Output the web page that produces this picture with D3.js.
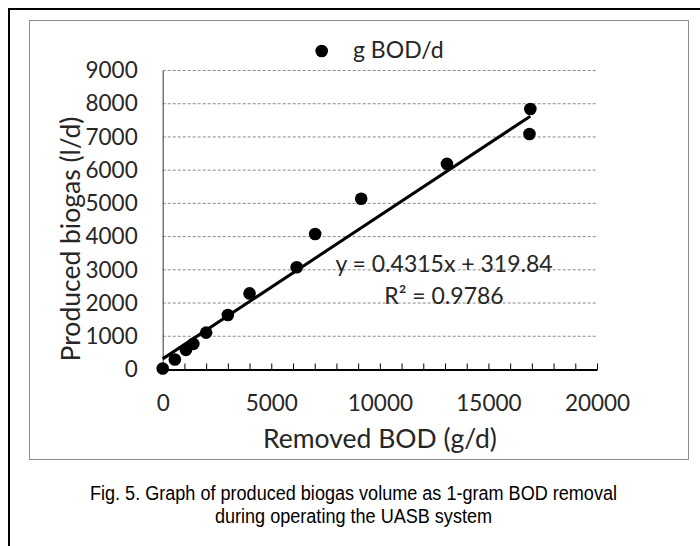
<!DOCTYPE html>
<html><head><meta charset="utf-8">
<script src="https://cdn.jsdelivr.net/npm/d3@7"></script>
<style>
html,body{margin:0;padding:0;background:#fff;}
svg{display:block;}
</style>
</head><body>
<svg id="chart" width="700" height="546"></svg>
<script>
// ---- data ----
const removedBOD = [0, 560, 1070, 1410, 2000, 3000, 4000, 6170, 7020, 9140, 13090, 16930, 16890];
const biogas     = [30, 300, 590, 770, 1110, 1640, 2290, 3080, 4080, 5140, 6190, 7840, 7090];
const seriesName = "g BOD/d";
const trendSlope = 0.4315, trendIntercept = 319.84;
const equationLines = ["y = 0.4315x + 319.84", "R\u00B2 = 0.9786"];
const yTicks = [0,1000,2000,3000,4000,5000,6000,7000,8000,9000];
const xLabelTicks = [0,5000,10000,15000,20000];
const xMinorTicks = d3.range(0, 20001, 1000);
const xTitle = "Removed BOD (g/d)";
const yTitle = "Produced biogas (l/d)";
const captionLines = ["Fig. 5. Graph of produced biogas volume as 1-gram BOD removal",
                      "during operating the UASB system"];

const svg = d3.select("#chart");
const font = "Lato, 'Open Sans', sans-serif";

// outer frame (cropped)
svg.append("path").attr("d","M9,560 V9 H710").attr("fill","none")
   .attr("stroke","#000").attr("stroke-width",2);
// chart area border
svg.append("rect").attr("x",29.5).attr("y",20.5).attr("width",659).attr("height",439)
   .attr("fill","#fff").attr("stroke","#8c8c8c").attr("stroke-width",1);

const x = d3.scaleLinear().domain([0,20000]).range([162.7,597]);
const y = d3.scaleLinear().domain([0,9000]).range([369.5,70.5]);

// gridlines
svg.append("g").selectAll("line").data(yTicks.filter(d=>d>0)).join("line")
  .attr("x1",x(0)).attr("x2",x(20000))
  .attr("y1",d=>y(d)).attr("y2",d=>y(d))
  .attr("stroke","#8a8a8a").attr("stroke-width",1).attr("stroke-dasharray","3,2");

// y axis
const yAxis = svg.append("g").attr("transform",`translate(${x(0)},0)`)
  .call(d3.axisLeft(y).tickValues(yTicks).tickSize(0).tickPadding(25).tickFormat(d3.format("d")));
yAxis.select(".domain").attr("stroke","#555").attr("stroke-width",1.2);
yAxis.selectAll("text").attr("font-family",font).attr("font-size",22.5).attr("fill","#262626");

// x axis
const xAxis = svg.append("g").attr("transform",`translate(0,${y(0)})`)
  .call(d3.axisBottom(x).tickValues(xMinorTicks).tickSize(-6).tickSizeOuter(0).tickPadding(26)
     .tickFormat(d => xLabelTicks.includes(d) ? d3.format("d")(d) : ""));
xAxis.select(".domain").attr("stroke","#000").attr("stroke-width",1.8);
xAxis.selectAll(".tick line").attr("stroke","#000").attr("stroke-width",1);
xAxis.selectAll("text").attr("font-family",font).attr("font-size",22.5).attr("fill","#262626");

// trendline
const xmin = d3.min(removedBOD), xmax = d3.max(removedBOD);
svg.append("line")
  .attr("x1",x(xmin)).attr("y1",y(trendSlope*xmin+trendIntercept))
  .attr("x2",x(xmax)).attr("y2",y(trendSlope*xmax+trendIntercept))
  .attr("stroke","#000").attr("stroke-width",3);

// points
svg.append("g").selectAll("circle").data(removedBOD.map((v,i)=>[v,biogas[i]])).join("circle")
  .attr("cx",d=>x(d[0])).attr("cy",d=>y(d[1])).attr("r",6.3).attr("fill","#000");

// equation
svg.append("g").selectAll("text").data(equationLines).join("text")
  .attr("x",444).attr("y",(d,i)=>272+i*32).attr("text-anchor","middle")
  .attr("font-family",font).attr("font-size",23).attr("fill","#262626")
  .text(d=>d);

// legend
svg.append("circle").attr("cx",321.7).attr("cy",51).attr("r",6.3).attr("fill","#000");
svg.append("text").attr("x",353).attr("y",58).attr("font-family",font).attr("font-size",23)
  .attr("fill","#262626").text(seriesName);

// axis titles
svg.append("text").attr("x",380).attr("y",448).attr("text-anchor","middle")
  .attr("font-family",font).attr("font-size",26.5).attr("fill","#262626").text(xTitle);
svg.append("text").attr("transform","translate(80,239) rotate(-90)").attr("text-anchor","middle")
  .attr("font-family",font).attr("font-size",26.5).attr("fill","#262626").text(yTitle);

// caption
const cap = svg.append("g").attr("font-family","'Liberation Sans', Arial, sans-serif")
  .attr("font-size",20).attr("fill","#000");
const c1 = cap.append("text").attr("x",353.5).attr("y",500).attr("text-anchor","middle").text(captionLines[0]);
const natural = c1.node().getComputedTextLength();
const factor = 527/natural;
c1.attr("textLength",527).attr("lengthAdjust","spacingAndGlyphs");
const c2 = cap.append("text").attr("x",353.5).attr("y",522.5).attr("text-anchor","middle").text(captionLines[1]);
const n2 = c2.node().getComputedTextLength();
c2.attr("textLength",n2*factor).attr("lengthAdjust","spacingAndGlyphs");
</script>
</body></html>
